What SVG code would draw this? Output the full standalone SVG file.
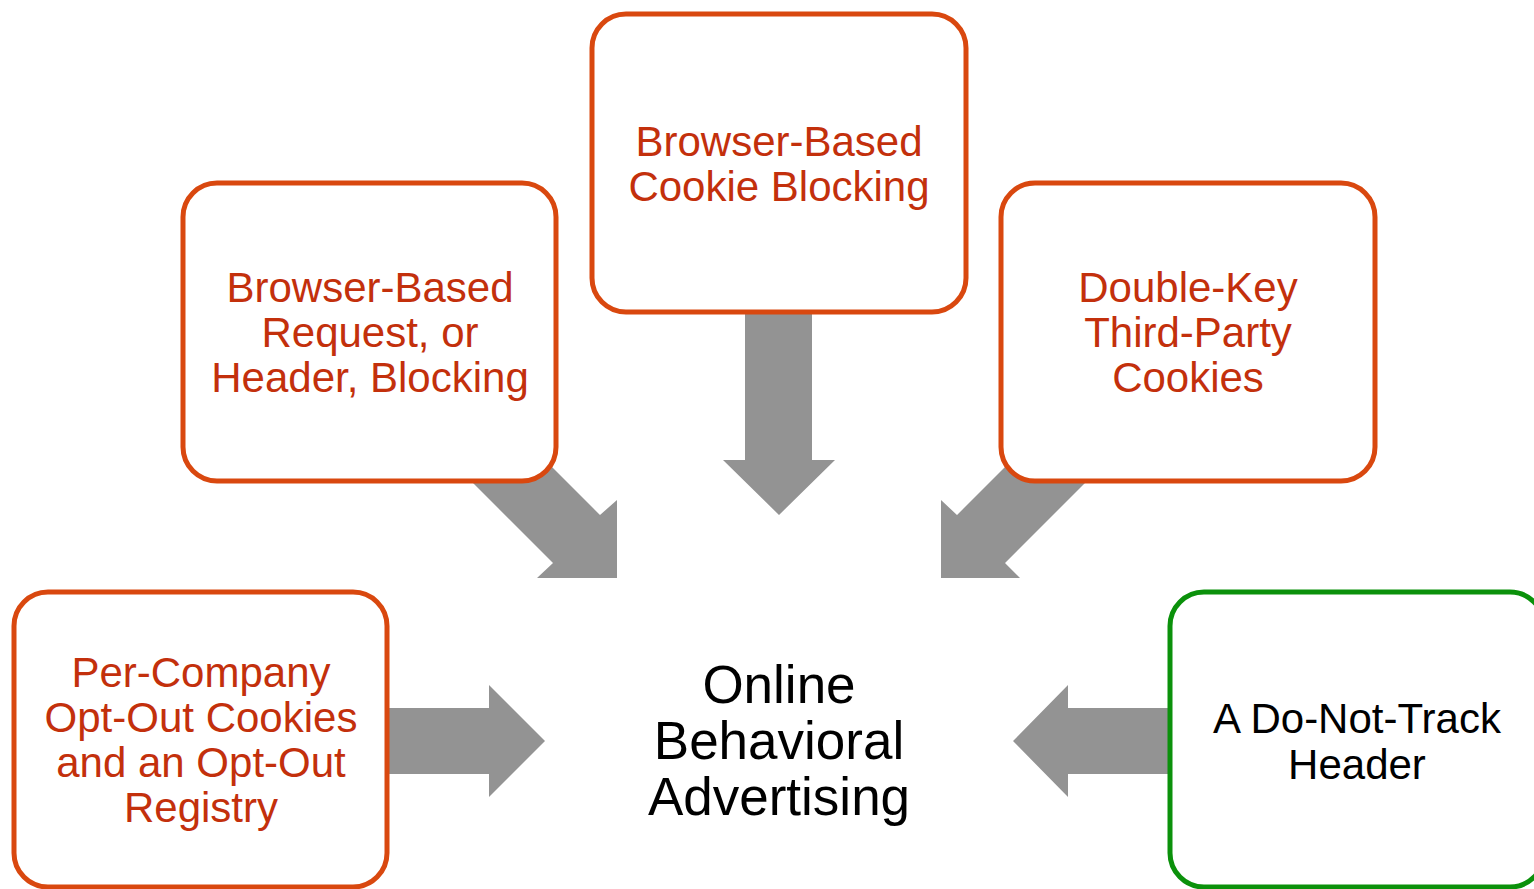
<svg xmlns="http://www.w3.org/2000/svg" width="1534" height="889" viewBox="0 0 1534 889">
  <style>
    .box { fill: #ffffff; stroke: #D9480F; stroke-width: 5; }
    .box.green { stroke: #0B910B; }
    .arrow { fill: #939393; }
    .label { font-family: "Liberation Sans", Arial, sans-serif; font-size: 42px; text-anchor: middle; fill: #C3300C; }
    .label.dark { fill: #000000; }
    .center { font-family: "Liberation Sans", Arial, sans-serif; font-size: 53px; text-anchor: middle; fill: #000000; }
  </style>
  <rect width="1534" height="889" fill="#ffffff"/>

  <!-- block arrows pointing at the central topic -->
  <g id="connectors">
    <!-- from top box, straight down -->
    <polygon class="arrow" points="745,300 812,300 812,460 835,460 779,515 723,460 745,460"/>
    <!-- from upper-left box, diagonal down-right -->
    <polygon class="arrow" points="470,385 600,515 617,500 617,578 537,578 553,563 423,433"/>
    <!-- from upper-right box, diagonal down-left -->
    <polygon class="arrow" points="1087,385 957,515 941,500 941,578 1020,578 1005,563 1135,433"/>
    <!-- from lower-left box, pointing right -->
    <polygon class="arrow" points="380,708 489,708 489,685 545,741 489,797 489,774 380,774"/>
    <!-- from lower-right box, pointing left -->
    <polygon class="arrow" points="1180,708 1068,708 1068,685 1013,741 1068,797 1068,774 1180,774"/>
  </g>

  <g id="node-cookie-blocking">
    <rect class="box" x="592" y="14" width="374" height="298" rx="34"/>
    <text class="label" x="779" y="156">Browser-Based</text>
    <text class="label" x="779" y="201">Cookie Blocking</text>
  </g>

  <g id="node-request-blocking">
    <rect class="box" x="183" y="183" width="373" height="298" rx="34"/>
    <text class="label" x="370" y="302">Browser-Based</text>
    <text class="label" x="370" y="347">Request, or</text>
    <text class="label" x="370" y="392">Header, Blocking</text>
  </g>

  <g id="node-double-key">
    <rect class="box" x="1001" y="183" width="374" height="298" rx="34"/>
    <text class="label" x="1188" y="302">Double-Key</text>
    <text class="label" x="1188" y="347">Third-Party</text>
    <text class="label" x="1188" y="392">Cookies</text>
  </g>

  <g id="node-opt-out">
    <rect class="box" x="14" y="592" width="373" height="295" rx="34"/>
    <text class="label" x="201" y="687">Per-Company</text>
    <text class="label" x="201" y="732">Opt-Out Cookies</text>
    <text class="label" x="201" y="777">and an Opt-Out</text>
    <text class="label" x="201" y="822">Registry</text>
  </g>

  <g id="node-do-not-track">
    <rect class="box green" x="1170" y="592" width="374" height="295" rx="34"/>
    <text class="label dark" x="1357" y="733">A Do-Not-Track</text>
    <text class="label dark" x="1357" y="779">Header</text>
  </g>

  <g id="node-oba">
    <text class="center" x="779" y="703">Online</text>
    <text class="center" x="779" y="759">Behavioral</text>
    <text class="center" x="779" y="815">Advertising</text>
  </g>
</svg>
